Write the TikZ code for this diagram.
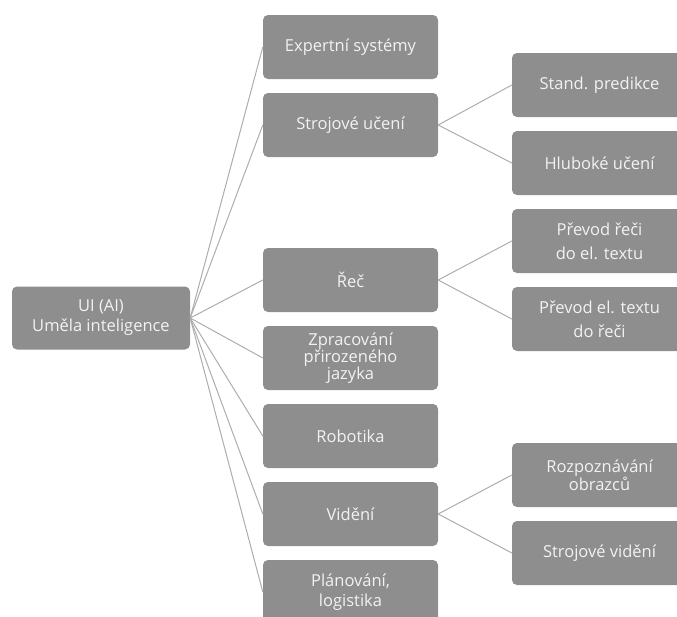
\documentclass[tikz,border=0pt]{standalone}
\usepackage{fontspec}
\setmainfont{Open Sans}
\usepackage{tikz}

\definecolor{boxgray}{HTML}{8E8E8E}
\definecolor{txtgray}{HTML}{F2F2F2}
\definecolor{linegray}{HTML}{ADADAD}

\tikzset{
    box/.style={rectangle, rounded corners=5pt, fill=boxgray, text=txtgray,
        minimum width=175pt, minimum height=64pt, inner sep=0pt, align=center,
        font=\fontsize{16.5}{20}\selectfont},
    rowgap/.style={font=\fontsize{16.5}{#1}\selectfont},
    link/.style={draw=linegray, line width=1pt}
}

\begin{document}
\begin{tikzpicture}[x=1pt, y=-1pt]
        \useasboundingbox (0,0) rectangle (677,616);
        \clip (0,0) rectangle (677,616);

        \node[box, minimum width=178pt, minimum height=63pt] (ui) at (101,318) {UI (AI)\\Uměla inteligence};

        \node[box] (exp)  at (350.5,47)  {Expertní systémy};
        \node[box] (ml)   at (350.5,125) {Strojové učení};
        \node[box] (rec)  at (350.5,280) {Řeč};
        \node[box, rowgap=17] (nlp) at (350.5,358) {Zpracování\\přirozeného\\jazyka};
        \node[box] (rob)  at (350.5,436) {Robotika};
        \node[box] (vid)  at (350.5,514) {Vidění};
        \node[box, rowgap=20] (plan) at (350.5,592) {Plánování,\\logistika};

        \node[box] (std)  at (599.5,85)  {Stand. predikce};
        \node[box] (deep) at (599.5,163) {Hluboké učení};
        \node[box, rowgap=24] (s2t) at (599.5,241) {Převod řeči\\do el. textu};
        \node[box, rowgap=24] (t2s) at (599.5,319) {Převod el. textu\\do řeči};
        \node[box, rowgap=17] (pat) at (599.5,475) {Rozpoznávání\\obrazců};
        \node[box] (cv)   at (599.5,553) {Strojové vidění};

        \draw[link] (ui.east) -- (exp.west);
        \draw[link] (ui.east) -- (ml.west);
        \draw[link] (ui.east) -- (rec.west);
        \draw[link] (ui.east) -- (nlp.west);
        \draw[link] (ui.east) -- (rob.west);
        \draw[link] (ui.east) -- (vid.west);
        \draw[link] (ui.east) -- (plan.west);

        \draw[link] (ml.east) -- (std.west);
        \draw[link] (ml.east) -- (deep.west);
        \draw[link] (rec.east) -- (s2t.west);
        \draw[link] (rec.east) -- (t2s.west);
        \draw[link] (vid.east) -- (pat.west);
        \draw[link] (vid.east) -- (cv.west);
\end{tikzpicture}
\end{document}
